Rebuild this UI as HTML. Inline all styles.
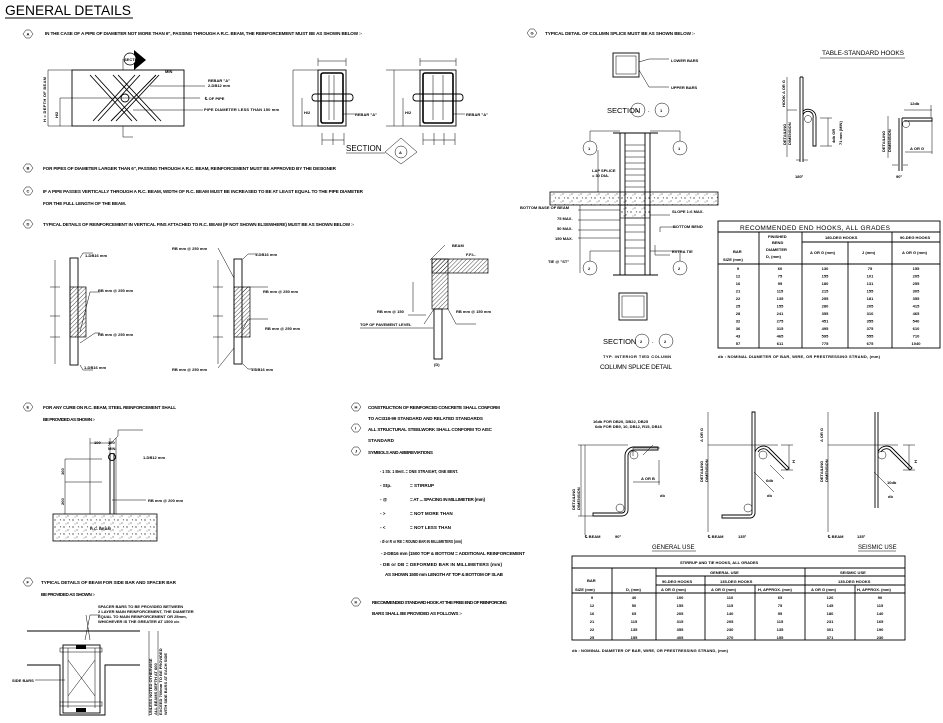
<!DOCTYPE html>
<html><head><meta charset="utf-8"><style>
html,body{margin:0;padding:0;background:#fff;}
svg{display:block;}
text{font-family:"Liberation Sans",sans-serif;font-weight:bold;fill:#000;}
.t{font-size:4.6px;}
.s{font-size:4px;}
.l{stroke:#000;stroke-width:0.9;fill:none;}
.th{stroke:#000;stroke-width:1.6;fill:none;}
.hn{stroke:#000;stroke-width:0.5;fill:none;}
</style></head><body>
<svg width="943" height="723" viewBox="0 0 943 723" xmlns="http://www.w3.org/2000/svg">
<defs>
<pattern id="hat" width="3" height="3" patternUnits="userSpaceOnUse" patternTransform="rotate(45)"><line x1="0" y1="0" x2="0" y2="3" stroke="#000" stroke-width="0.7"/></pattern>
<pattern id="dot" width="9" height="7" patternUnits="userSpaceOnUse"><circle cx="1" cy="2" r="0.6"/><circle cx="5" cy="5" r="0.5"/><path d="M6 1l1 1.5" stroke="#000" stroke-width="0.5"/><circle cx="3" cy="6" r="0.4"/></pattern>
</defs>

<!-- title -->
<text x="5" y="15" style="font-size:14px;font-weight:normal;font-family:'Liberation Sans Narrow','Liberation Sans',sans-serif" textLength="126" lengthAdjust="spacingAndGlyphs">GENERAL DETAILS</text>
<line x1="5" y1="18" x2="133" y2="18" class="l"/>

<!-- hex labels -->
<g class="hn" stroke-width="0.7">
<path d="M23 34l3-4h4l3 4-3 4h-4z"/><path d="M23 168l3-4h4l3 4-3 4h-4z"/><path d="M23 191l3-4h4l3 4-3 4h-4z"/><path d="M23 224l3-4h4l3 4-3 4h-4z"/>
<path d="M527 33l3-4h4l3 4-3 4h-4z"/>
<path d="M23 407l3-4h4l3 4-3 4h-4z"/><path d="M23 582l3-4h4l3 4-3 4h-4z"/>
<path d="M351 407l3-4h4l3 4-3 4h-4z"/><path d="M351 428l3-4h4l3 4-3 4h-4z"/><path d="M351 451l3-4h4l3 4-3 4h-4z"/><path d="M351 602l3-4h4l3 4-3 4h-4z"/>
</g>
<g class="s">
<text x="26.5" y="35.5">A</text><text x="26.5" y="169.5">B</text><text x="26.5" y="192.5">C</text><text x="26.5" y="225.5">D</text><text x="530.5" y="34.5">G</text>
<text x="26.5" y="408.5">E</text><text x="26.5" y="583.5">F</text><text x="354.5" y="408.5">H</text><text x="355" y="429.5">I</text><text x="355" y="452.5">J</text><text x="354.5" y="603.5">K</text>
</g>

<g class="t">
<text x="45" y="35" textLength="317">IN THE CASE OF A PIPE OF DIAMETER NOT MORE THAN 6", PASSING THROUGH A R.C. BEAM, THE REINFORCEMENT MUST BE AS SHOWN BELOW :-</text>
<text x="43" y="170" textLength="293">FOR PIPES OF DIAMETER LARGER THAN 6", PASSING THROUGH A R.C. BEAM, REINFORCEMENT MUST BE APPROVED BY THE DESIGNER</text>
<text x="43" y="193" textLength="320">IF A PIPE PASSES VERTICALLY THROUGH A R.C. BEAM, WIDTH OF R.C. BEAM MUST BE INCREASED TO BE AT LEAST EQUAL TO THE PIPE DIAMETER</text>
<text x="43" y="205" textLength="83">FOR THE FULL LENGTH OF THE BEAM.</text>
<text x="43" y="226" textLength="311">TYPICAL DETAILS OF REINFORCEMENT IN VERTICAL FINS ATTACHED TO R.C. BEAM (IF NOT SHOWN ELSEWHERE) MUST BE AS SHOWN BELOW :-</text>
<text x="545" y="35" textLength="150">TYPICAL DETAIL OF COLUMN SPLICE MUST BE AS SHOWN BELOW :-</text>
<text x="43" y="409" textLength="133">FOR ANY CURB ON R.C. BEAM, STEEL REINFORCEMENT SHALL</text>
<text x="43" y="421" textLength="52">BE PROVIDED AS SHOWN :-</text>
<text x="41" y="584" textLength="135">TYPICAL DETAILS OF BEAM FOR SIDE BAR AND SPACER BAR</text>
<text x="41" y="596" textLength="54">BE PROVIDED AS SHOWN :-</text>
<text x="368" y="409" textLength="132">CONSTRUCTION OF REINFORCED CONCRETE SHALL CONFORM</text>
<text x="368" y="420" textLength="115">TO ACI318-99 STANDARD AND RELATED STANDARDS</text>
<text x="368" y="431" textLength="124">ALL STRUCTURAL STEELWORK SHALL CONFORM TO AISC</text>
<text x="368" y="442" textLength="26">STANDARD</text>
<text x="368" y="454" textLength="65">SYMBOLS AND ABBREVIATIONS</text>
<text x="380" y="473" textLength="78" lengthAdjust="spacingAndGlyphs">- 1 Str. 1 Bent. = ONE STRAIGHT, ONE BENT.</text>
<text x="380" y="487">- Stp.</text><text x="410" y="487">= STIRRUP</text>
<text x="380" y="501">- @</text><text x="410" y="501" textLength="75">= AT ... SPACING IN MILLIMETER (mm)</text>
<text x="380" y="515">- &gt;</text><text x="410" y="515">= NOT MORE THAN</text>
<text x="380" y="529">- &lt;</text><text x="410" y="529">= NOT LESS THAN</text>
<text x="380" y="543" textLength="82" lengthAdjust="spacingAndGlyphs">- Ø or R or RB = ROUND BAR IN MILLIMETERS (mm)</text>
<text x="381" y="555" textLength="144">- 2-DB16 mm (1500 TOP &amp; BOTTOM = ADDITIONAL REINFORCEMENT</text>
<text x="380" y="566" textLength="122">- DB or DB = DEFORMED BAR IN MILLIMETERS (mm)</text>
<text x="385" y="576" textLength="118">AS SHOWN 1500 mm LENGTH AT TOP &amp; BOTTOM OF SLAB</text>
<text x="372" y="604" textLength="135">RECOMMENDED STANDARD HOOK AT THE FREE END OF REINFORCING</text>
<text x="372" y="615" textLength="90">BARS SHALL BE PROVIDED AS FOLLOWS :-</text>
</g>

<!-- A: beam elevation -->
<rect x="72" y="70" width="112" height="56" class="l"/>
<g class="l" stroke-width="1.2">
<path d="M90 75l42 46M95 75l42 46M93 121l42-46M98 121l42-46M113 75l43 46M118 75l43 46M116 121l43-46M111 121l45-46"/>
</g>
<circle cx="125" cy="98" r="4" class="l"/>
<line x1="60" y1="98" x2="200" y2="98" class="hn"/>
<line x1="48" y1="70" x2="72" y2="70" class="hn"/><line x1="48" y1="126" x2="72" y2="126" class="hn"/><line x1="48" y1="70" x2="48" y2="126" class="hn"/><line x1="60" y1="98" x2="60" y2="126" class="hn"/>
<path d="M123 70v-11M123 126v11h10" class="hn"/>
<path d="M134 50l12 10-12 10z" fill="#000"/><circle cx="130" cy="59" r="6" fill="#fff" stroke="#000" stroke-width="0.7"/>
<text x="124" y="61" class="s">SECTION</text>
<g class="s">
<text x="208" y="82">REBAR "A"</text><text x="208" y="87">2-DB12 mm</text><text x="205" y="100">℄ OF PIPE</text><text x="204" y="111" textLength="75">PIPE DIAMETER LESS THAN 150 mm</text><text x="165" y="73">MIN</text>
<text x="46" y="122" transform="rotate(-90 46 122)" textLength="45">H = DEPTH OF BEAM</text><text x="58" y="118" transform="rotate(-90 58 118)">H/2</text>
</g>
<path d="M150 86h55M133 110h70" class="hn"/>
<!-- sections -->
<rect x="318" y="70" width="28" height="56" class="l"/><rect x="321" y="73" width="22" height="50" rx="2" class="th"/>
<rect x="312" y="94" width="41" height="7" rx="3" class="l"/>
<path d="M329 75v45M334 75v45" class="hn"/>
<rect x="420" y="70" width="36" height="56" class="l"/><rect x="423" y="73" width="30" height="50" rx="2" class="th"/>
<rect x="413" y="94" width="50" height="7" rx="3" class="l"/>
<path d="M433 75v45M443 75v45" class="hn"/>
<path d="M293 70h25M293 126h25M293 70v56M302 98v28M386 70h34M386 126h34M394 70v56M403 98v28M318 58v8M346 58v8M318 61h28M420 58v8M456 58v8M420 61h36M322 133v12M333 133v12M344 133v12M322 140h22M423 133v12M434 133v12M444 133v12M455 133v12M423 140h32M343 114h12M453 114h12" class="hn"/>
<g class="s"><text x="355" y="116">REBAR "A"</text><text x="466" y="116">REBAR "A"</text><text x="304" y="114">H/2</text><text x="405" y="114">H/2</text></g>
<text x="346" y="151" style="font-size:8px;font-weight:normal">SECTION</text><line x1="346" y1="153" x2="385" y2="153" class="hn"/>
<path d="M385 152l16-14 16 14-16 12z" class="hn"/><circle cx="401" cy="152" r="6" class="hn"/><text x="399" y="154" class="s">A</text>

<!-- D: fins -->
<rect x="70" y="258" width="8" height="107" class="l"/>
<rect x="70" y="287" width="16" height="50" fill="url(#hat)" stroke="#000" stroke-width="0.7"/>
<path d="M55 260v104M50 287h10M50 316h10M50 337h10" class="hn"/>
<rect x="234" y="259" width="8" height="105" class="l"/>
<rect x="234" y="287" width="16" height="50" fill="url(#hat)" stroke="#000" stroke-width="0.7"/>
<path d="M218 260v104M213 287h10M213 316h10M213 337h10M218 248l16 30M218 368l16-20" class="hn"/>
<rect x="432" y="259" width="56" height="14" fill="url(#hat)" stroke="#000" stroke-width="0.7"/>
<rect x="432" y="259" width="16" height="50" fill="url(#hat)" stroke="#000" stroke-width="0.7"/>
<rect x="434" y="309" width="8" height="50" class="l"/>
<path d="M360 328h73M413 282v30M408 315h18M430 260l15-15" class="hn"/>
<g class="s">
<text x="85" y="257">1-DB16 mm</text><text x="98" y="292">RB mm @ 250 mm</text><text x="98" y="336">RB mm @ 250 mm</text><text x="84" y="369">1-DB16 mm</text>
<text x="172" y="250">RB mm @ 250 mm</text><text x="255" y="256">1-DB16 mm</text><text x="263" y="293">RB mm @ 250 mm</text><text x="265" y="330">RB mm @ 250 mm</text><text x="172" y="371">RB mm @ 250 mm</text><text x="251" y="371">1-DB16 mm</text>
<text x="452" y="247">BEAM</text><text x="466" y="256">F.F.L.</text><text x="377" y="313">RB mm @ 150</text><text x="456" y="313">RB mm @ 150 mm</text><text x="360" y="326">TOP OF PAVEMENT LEVEL</text><text x="434" y="366">(D)</text>
</g>
<path d="M80 258l3-5h10M80 332l10-40h10M80 343l15-10h5M80 365l3 5h10M243 259l5-5h10M243 292l5-5h20M243 329l5-10h20M243 364l5 5h8M448 309l8 15h20M434 309l-10 15" class="hn"/>

<!-- G: column splice -->
<rect x="613" y="53" width="26" height="24" class="l"/><rect x="616" y="56" width="20" height="18" class="hn"/>
<path d="M639 62l10-3h20M639 70l10 17h20" class="hn"/>
<g class="s"><text x="671" y="62">LOWER BARS</text><text x="671" y="89">UPPER BARS</text></g>
<text x="607" y="113" style="font-size:7.5px;font-weight:normal">SECTION</text>
<circle cx="638" cy="110" r="7" class="hn"/><text x="636" y="112" class="s">1</text><text x="648" y="112" class="s">-</text><circle cx="662" cy="110" r="7" class="hn"/><text x="660" y="112" class="s">1</text>
<path d="M620 133v142M650 133v142M625 133v142M645 133v142M613 133h45M613 275h45" class="l"/>
<path d="M625 145h20M625 151h20M625 157h20M625 163h20M625 169h20M625 175h20M625 181h20M625 187h20M625 218h20M625 225h20M625 232h20M625 240h20M625 248h20M625 256h20M625 264h20" class="hn"/>
<rect x="550" y="192" width="168" height="13" fill="url(#dot)" stroke="#000" stroke-width="0.8"/>
<rect x="620" y="205" width="30" height="13" fill="url(#dot)" stroke="#000" stroke-width="0.6"/>
<path d="M590 141v-10h30M680 141v-10h-30M590 261v-10h30M680 261v-10h-30M598 150v42M578 210h42M578 220h42M578 230h42M578 238h42M580 205v68M650 215h20M660 232v-5h15M655 245v10h15" class="hn"/>
<circle cx="590" cy="148" r="7" fill="#fff" class="hn"/><circle cx="680" cy="148" r="7" fill="#fff" class="hn"/><circle cx="590" cy="268" r="7" fill="#fff" class="hn"/><circle cx="680" cy="268" r="7" fill="#fff" class="hn"/>
<g class="s"><text x="588" y="150">1</text><text x="678" y="150">1</text><text x="588" y="270">2</text><text x="678" y="270">2</text>
<text x="592" y="172">LAP SPLICE</text><text x="592" y="177">= 30 DIA.</text><text x="520" y="209">BOTTOM BASE OF BEAM</text><text x="557" y="220">75 MAX.</text><text x="557" y="230">50 MAX.</text><text x="555" y="240">150 MAX.</text><text x="548" y="263">TIE @ "ST"</text><text x="672" y="213">SLOPE 1:6 MAX.</text><text x="673" y="228">BOTTOM BEND</text><text x="672" y="253">EXTRA TIE</text></g>
<rect x="619" y="293" width="28" height="27" class="l"/><rect x="622" y="296" width="22" height="21" class="hn"/>
<text x="603" y="344" style="font-size:7.5px;font-weight:normal">SECTION</text>
<circle cx="642" cy="341" r="7" class="hn"/><text x="640" y="343" class="s">2</text><text x="652" y="343" class="s">-</text><circle cx="666" cy="341" r="7" class="hn"/><text x="664" y="343" class="s">2</text>
<text x="603" y="358" class="s" textLength="68">TYP. INTERIOR TIED COLUMN</text>
<text x="600" y="369" style="font-size:6.5px;font-weight:normal" textLength="72">COLUMN SPLICE DETAIL</text>

<!-- standard hooks -->
<text x="822" y="55" style="font-size:6.5px;font-weight:normal" textLength="82">TABLE-STANDARD HOOKS</text><line x1="820" y1="58" x2="905" y2="58" class="hn"/>
<path d="M800 77v85M803 77v85M800 77h3M803 115a5 5 0 0 1 10 3v28h3v-29a8 8 0 0 0-13-6" class="l"/>
<circle cx="808" cy="119" r="3.5" class="hn"/>
<path d="M787 77v80M787 110h10M820 118h12M820 146h12M828 118v28M796 160h4M803 160h5" class="hn"/>
<path d="M899 118v53M902 118v53M902 118h30v3h-28" class="l"/><circle cx="906" cy="124" r="3.5" class="hn"/>
<path d="M888 116v42M904 110h28M931 105v12M932 120v34M905 152h27M892 165h6M903 165h5" class="hn"/>
<g class="s"><text x="785" y="107" transform="rotate(-90 785 107)">HOOK  A OR G</text><text x="786" y="145" transform="rotate(-90 786 145)">DETAILING</text><text x="791" y="145" transform="rotate(-90 791 145)">DIMENSION</text>
<text x="835" y="143" transform="rotate(-90 835 143)">4db OR</text><text x="842" y="145" transform="rotate(-90 842 145)">71 mm (MIN)</text>
<text x="885" y="152" transform="rotate(-90 885 152)">DETAILING</text><text x="891" y="152" transform="rotate(-90 891 152)">DIMENSION</text><text x="910" y="105">12db</text><text x="910" y="150">A OR G</text>
<text x="795" y="178">180°</text><text x="896" y="178">90°</text></g>

<!-- hook table -->
<g class="l" stroke-width="0.8">
<rect x="718" y="221" width="222" height="127"/>
<path d="M718 232h222M718 264h222M759 232v116M802 232v116M848 242v106M892 232v116M802 242h138"/>
</g>
<text x="740" y="230" style="font-size:6.5px;font-weight:normal" textLength="150">RECOMMENDED END HOOKS, ALL GRADES</text>
<g class="s"><text x="733" y="253">BAR</text><text x="723" y="261">SIZE (mm)</text><text x="768" y="238">FINISHED</text><text x="772" y="244">BEND</text><text x="766" y="251">DIAMETER</text><text x="766" y="258">D, (mm)</text>
<text x="825" y="239">180-DEG HOOKS</text><text x="900" y="239">90-DEG HOOKS</text><text x="810" y="254">A OR G (mm)</text><text x="862" y="254">J (mm)</text><text x="902" y="254">A OR G (mm)</text></g>
<g class="s" text-anchor="middle">
<text x="738" y="270">9</text><text x="738" y="277.5">12</text><text x="738" y="285">16</text><text x="738" y="292.5">21</text><text x="738" y="300">22</text><text x="738" y="307.5">25</text><text x="738" y="315">28</text><text x="738" y="322.5">32</text><text x="738" y="330">36</text><text x="738" y="337.5">43</text><text x="738" y="345">57</text>
<text x="780" y="270">60</text><text x="780" y="277.5">75</text><text x="780" y="285">95</text><text x="780" y="292.5">115</text><text x="780" y="300">135</text><text x="780" y="307.5">155</text><text x="780" y="315">241</text><text x="780" y="322.5">275</text><text x="780" y="330">315</text><text x="780" y="337.5">465</text><text x="780" y="345">611</text>
<text x="825" y="270">130</text><text x="825" y="277.5">155</text><text x="825" y="285">180</text><text x="825" y="292.5">215</text><text x="825" y="300">255</text><text x="825" y="307.5">280</text><text x="825" y="315">355</text><text x="825" y="322.5">451</text><text x="825" y="330">495</text><text x="825" y="337.5">595</text><text x="825" y="345">775</text>
<text x="870" y="270">75</text><text x="870" y="277.5">101</text><text x="870" y="285">131</text><text x="870" y="292.5">155</text><text x="870" y="300">181</text><text x="870" y="307.5">205</text><text x="870" y="315">310</text><text x="870" y="322.5">355</text><text x="870" y="330">375</text><text x="870" y="337.5">555</text><text x="870" y="345">675</text>
<text x="916" y="270">155</text><text x="916" y="277.5">205</text><text x="916" y="285">255</text><text x="916" y="292.5">305</text><text x="916" y="300">355</text><text x="916" y="307.5">415</text><text x="916" y="315">465</text><text x="916" y="322.5">540</text><text x="916" y="330">610</text><text x="916" y="337.5">710</text><text x="916" y="345">1040</text>
</g>
<text x="718" y="358" class="s" textLength="162">db : NOMINAL DIAMETER OF BAR, WIRE, OR PRESTRESSING STRAND, (mm)</text>

<!-- E drawing -->
<rect x="53" y="514" width="104" height="27" fill="url(#dot)" stroke="#000" stroke-width="0.8"/>
<path d="M65 459v55M90 438v76M110 438v76M116 438v76M65 459h37M65 482h37M90 443h20M108 446l10-10v-6h25M112 500h34" class="hn"/>
<path d="M110 453v61M114 453v61" class="l"/><circle cx="112" cy="457" r="3.5" class="l"/>
<g class="s"><text x="94" y="444">100</text><text x="108" y="444">100</text><text x="108" y="450">MIN.</text><text x="143" y="459">1-DB12 mm</text><text x="148" y="502">RB mm @ 200 mm</text><text x="90" y="530">R.C. BEAM</text>
<text x="64" y="475" transform="rotate(-90 64 475)">100</text><text x="64" y="505" transform="rotate(-90 64 505)">200</text></g>

<!-- F drawing -->
<path d="M27 631h113M27 665h33v50h45v-50h35" class="l"/>
<rect x="63" y="645" width="37" height="68" class="l"/>
<rect x="60" y="648" width="42" height="4" class="hn"/><rect x="60" y="702" width="42" height="4" class="hn"/>
<path d="M68 648v60M95 648v60M68 660l27 36M95 660l-27 36M35 680h30M85 640l5-25h10M90 640l-4-25" class="hn"/>
<rect x="76" y="645" width="10" height="4" fill="#000"/><rect x="76" y="708" width="10" height="4" fill="#000"/>
<path d="M149 631v85M158 631v85" class="hn"/>
<g class="s"><text x="98" y="608">SPACER BARS TO BE PROVIDED BETWEEN</text><text x="98" y="613">2 LAYER MAIN REINFORCEMENT, THE DIAMETER</text><text x="98" y="618">EQUAL TO MAIN REINFORCEMENT OR 25mm,</text><text x="98" y="623">WHICHEVER IS THE GREATER AT 1500 c/c</text><text x="12" y="682">SIDE BARS</text>
<text x="152" y="715" transform="rotate(-90 152 715)">UNLESS NOTED OTHERWISE</text><text x="157" y="715" transform="rotate(-90 157 715)">ALL BEAMS DEPTH AT 600</text><text x="162" y="715" transform="rotate(-90 162 715)">EXCEED 700mm TO BE PROVIDED</text><text x="167" y="715" transform="rotate(-90 167 715)">WITH SIDE BARS AT EACH SIDE</text></g>

<!-- K hooks -->
<path d="M628 455v55a6 6 0 0 1-6 6h-29v-3h29a3 3 0 0 0 3-3v-55a9 9 0 0 1 9-8h24v3h-24a6 6 0 0 0-6 5z" class="l"/>
<circle cx="634" cy="455" r="4" class="hn"/><circle cx="620" cy="508" r="4" class="hn"/>
<path d="M585 445v90M578 445h50M578 516h15M581 445v71M633 456v-8h27M659 460v25M633 482h27M643 455l10-10" class="hn"/>
<path d="M755 412v101a5 5 0 0 1-5 5h-28v-3h28a2 2 0 0 0 2-2v-101zM755 452a9 9 0 0 1 14-4l20 20-2 2-20-20a6 6 0 0 0-9 2" class="l"/>
<circle cx="763" cy="455" r="4" class="hn"/><circle cx="748" cy="508" r="4" class="hn"/>
<path d="M708 412v120M708 445h70M781 445h12M781 470h12M789 445v25M754 472l20 20M770 465l14 14" class="hn"/>
<path d="M875 412v96M878 412v96M878 452a9 9 0 0 1 14-4l20 20-2 2-20-20a6 6 0 0 0-9 2" class="l"/>
<circle cx="882" cy="455" r="4" class="hn"/>
<path d="M828 412v120M828 445h70M903 445h12M903 470h12M909 445v25M874 472l20 20" class="hn"/>
<g class="s"><text x="593" y="423">16db FOR DB20, DB22, DB25</text><text x="595" y="428">6db FOR DB9, 10, DB12, R15, DB16</text><text x="641" y="480">A OR B</text><text x="660" y="497">db</text><text x="766" y="482">6db</text><text x="767" y="497">db</text><text x="887" y="484">10db</text><text x="888" y="498">db</text>
<text x="575" y="510" transform="rotate(-90 575 510)">DETAILING</text><text x="580" y="510" transform="rotate(-90 580 510)">DIMENSION</text>
<text x="703" y="482" transform="rotate(-90 703 482)">DETAILING</text><text x="708" y="482" transform="rotate(-90 708 482)">DIMENSION</text><text x="703" y="442" transform="rotate(-90 703 442)">A OR G</text>
<text x="823" y="482" transform="rotate(-90 823 482)">DETAILING</text><text x="828" y="482" transform="rotate(-90 828 482)">DIMENSION</text><text x="823" y="442" transform="rotate(-90 823 442)">A OR G</text>
<text x="795" y="463" transform="rotate(-90 795 463)">H</text><text x="917" y="463" transform="rotate(-90 917 463)">H</text>
<text x="585" y="538">℄ BEAM</text><text x="615" y="538">90°</text><text x="708" y="538">℄ BEAM</text><text x="738" y="538">135°</text><text x="828" y="538">℄ BEAM</text><text x="857" y="538">135°</text></g>
<text x="652" y="549" style="font-size:6px;font-weight:normal">GENERAL USE</text><line x1="652" y1="551" x2="696" y2="551" class="hn"/>
<text x="858" y="549" style="font-size:6px;font-weight:normal">SEISMIC USE</text><line x1="858" y1="551" x2="896" y2="551" class="hn"/>

<!-- stirrup table -->
<g class="l" stroke-width="0.8">
<rect x="572" y="556" width="333" height="84"/>
<path d="M572 568h333M656 576h249M656 585h249M572 593h333M612 568v72M656 568v72M705 585v55M755 585v55M805 568v72M855 585v55M705 576v9"/>
</g>
<g class="s"><text x="680" y="564">STIRRUP AND TIE HOOKS, ALL GRADES</text><text x="710" y="574">GENERAL USE</text><text x="840" y="574">SEISMIC USE</text><text x="662" y="583">90-DEG HOOKS</text><text x="720" y="583">135-DEG HOOKS</text><text x="838" y="583">135-DEG HOOKS</text>
<text x="587" y="582">BAR</text><text x="575" y="591">SIZE (mm)</text><text x="626" y="591">D, (mm)</text><text x="661" y="591">A OR G (mm)</text><text x="711" y="591">A OR G (mm)</text><text x="758" y="591">H, APPROX. (mm)</text><text x="811" y="591">A OR G (mm)</text><text x="857" y="591">H, APPROX. (mm)</text></g>
<g class="s" text-anchor="middle">
<text x="592" y="599">9</text><text x="592" y="607">12</text><text x="592" y="615">16</text><text x="592" y="623">21</text><text x="592" y="631">22</text><text x="592" y="639">25</text>
<text x="634" y="599">40</text><text x="634" y="607">50</text><text x="634" y="615">65</text><text x="634" y="623">115</text><text x="634" y="631">135</text><text x="634" y="639">155</text>
<text x="680" y="599">100</text><text x="680" y="607">155</text><text x="680" y="615">205</text><text x="680" y="623">315</text><text x="680" y="631">355</text><text x="680" y="639">405</text>
<text x="730" y="599">110</text><text x="730" y="607">115</text><text x="730" y="615">140</text><text x="730" y="623">205</text><text x="730" y="631">230</text><text x="730" y="639">270</text>
<text x="780" y="599">65</text><text x="780" y="607">75</text><text x="780" y="615">95</text><text x="780" y="623">115</text><text x="780" y="631">135</text><text x="780" y="639">155</text>
<text x="830" y="599">120</text><text x="830" y="607">145</text><text x="830" y="615">180</text><text x="830" y="623">231</text><text x="830" y="631">301</text><text x="830" y="639">371</text>
<text x="880" y="599">90</text><text x="880" y="607">115</text><text x="880" y="615">140</text><text x="880" y="623">165</text><text x="880" y="631">190</text><text x="880" y="639">230</text>
</g>
<text x="572" y="652" class="s" textLength="156">db : NOMINAL DIAMETER OF BAR, WIRE, OR PRESTRESSING STRAND, (mm)</text>
</svg>
</body></html>
